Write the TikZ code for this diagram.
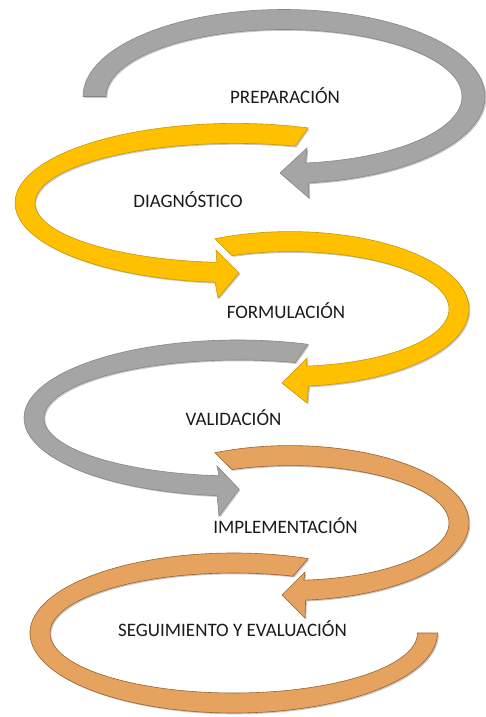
\documentclass[tikz,border=0pt]{standalone}
\usepackage{fontspec}
\setmainfont{Carlito}
\usetikzlibrary{calc,shadows}
\definecolor{grayfill}{HTML}{A5A5A5}
\definecolor{grayline}{HTML}{868686}
\definecolor{yelfill}{HTML}{FFC000}
\definecolor{yelline}{HTML}{C8980A}
\definecolor{orfill}{HTML}{E6A360}
\definecolor{orline}{HTML}{9A6230}
\definecolor{txt}{HTML}{1A1A1A}
\begin{document}
\begin{tikzpicture}[x=1pt,y=-1pt,
  band/.style={line width=0.6pt, line join=miter,
    drop shadow={shadow xshift=1.3pt, shadow yshift=-1.3pt, opacity=0.22, fill=black}},
  grayband/.style={band, fill=grayfill, draw=grayline},
  yelband/.style={band, fill=yelfill, draw=yelline},
  orband/.style={band, fill=orfill, draw=orline},
  lbl/.style={font=\fontsize{19}{21}\selectfont, text=txt, inner sep=0pt, anchor=base}]
\fill[white] (0,0) rectangle (486,717);
\useasboundingbox (0,0) rectangle (486,717);

% centres of the elliptic bands
\coordinate (c1) at (284,96.5);
\coordinate (c2) at (235,203);
\coordinate (c3) at (290,309);
\coordinate (c4) at (238,418);
\coordinate (c5) at (290,523);
\coordinate (c6) at (233.75,633);

% arrow heads
\coordinate (h1o) at (309,198); \coordinate (h1i) at (307,148); \coordinate (t1) at (280,173);
\coordinate (h2o) at (218,298); \coordinate (h2i) at (216,250); \coordinate (t2) at (239,273);
\coordinate (h3o) at (307,403); \coordinate (h3i) at (307,358); \coordinate (t3) at (282,383);
\coordinate (h4o) at (219,516); \coordinate (h4i) at (217,466); \coordinate (t4) at (239,489);
\coordinate (h5o) at (305,618); \coordinate (h5i) at (305,572); \coordinate (t5) at (282,595);

% 6 : seguimiento (no head)
\path[orband] ($(c6)+(291.4:203.75 and 80)$)
  arc[start angle=291.4,end angle=0,x radius=203.75,y radius=80]
  -- ($(c6)+(0:183.75 and 60)$)
  arc[start angle=0,end angle=288.8,x radius=183.75,y radius=60] -- cycle;

% 5 : implementacion
\path[orband] ($(c5)+(245.2:179 and 77.4)$)
  arc[start angle=245.2,end angle=445,x radius=179,y radius=77.4]
  -- (h5o) -- (t5) -- (h5i)
  -- ($(c5)+(445:159 and 57.4)$)
  arc[start angle=445,end angle=248.6,x radius=159,y radius=57.4] -- cycle;

% 4 : validacion
\path[grayband] ($(c4)+(289.1:214 and 78)$)
  arc[start angle=289.1,end angle=95.6,x radius=214,y radius=78]
  -- (h4o) -- (t4) -- (h4i)
  -- ($(c4)+(95.6:194 and 58)$)
  arc[start angle=95.6,end angle=287.1,x radius=194,y radius=58] -- cycle;

% 3 : formulacion
\path[yelband] ($(c3)+(245.2:179 and 77.4)$)
  arc[start angle=245.2,end angle=444,x radius=179,y radius=77.4]
  -- (h3o) -- (t3) -- (h3i)
  -- ($(c3)+(444:159 and 57.4)$)
  arc[start angle=444,end angle=248.6,x radius=159,y radius=57.4] -- cycle;

% 2 : diagnostico
\path[yelband] ($(c2)+(289.4:220 and 79.6)$)
  arc[start angle=289.4,end angle=95.2,x radius=220,y radius=79.6]
  -- (h2o) -- (t2) -- (h2i)
  -- ($(c2)+(95.2:200 and 59.6)$)
  arc[start angle=95.2,end angle=287.5,x radius=200,y radius=59.6] -- cycle;

% 1 : preparacion
\path[grayband] ($(c1)+(180:201 and 87)$)
  arc[start angle=180,end angle=443,x radius=201,y radius=87]
  -- (h1o) -- (t1) -- (h1i)
  -- ($(c1)+(443:178 and 67)$)
  arc[start angle=443,end angle=180,x radius=178,y radius=67] -- cycle;

% labels
\node[lbl] (l1) at (285,103) {PREPARACIÓN};
\node[lbl] (l2) at (188,207) {DIAGNÓSTICO};
\node[lbl] (l3) at (286,318) {FORMULACIÓN};
\node[lbl] (l4) at (233.5,425) {VALIDACIÓN};
\node[lbl] (l5) at (285.5,533) {IMPLEMENTACIÓN};
\node[lbl] (l6) at (232.5,636.5) {SEGUIMIENTO Y EVALUACIÓN};
\end{tikzpicture}
\end{document}
